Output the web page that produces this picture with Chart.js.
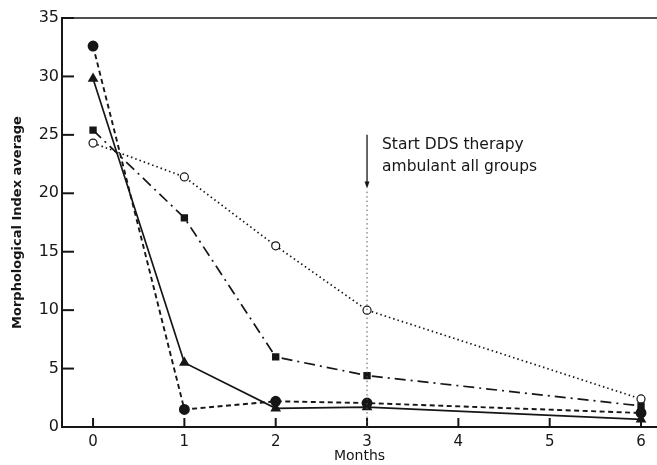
<!DOCTYPE html>
<html>
<head>
<meta charset="utf-8">
<script src="https://cdn.jsdelivr.net/npm/chart.js@4.4.1/dist/chart.umd.min.js"></script>
<style>
html,body{margin:0;padding:0;background:#fff;}
#wrap{width:657px;height:465px;position:relative;}
</style>
</head>
<body>
<div id="wrap"><canvas id="c" width="657" height="465"></canvas></div>
<script>
// ---- data ----
const months = [0, 1, 2, 3, 6];
const filledCircle = [32.6, 1.5, 2.2, 2.05, 1.2];
const filledTriangle = [29.8, 5.5, 1.6, 1.7, 0.65];
const filledSquare = [25.4, 17.9, 6.0, 4.4, 1.8];
const openCircle = [24.3, 21.4, 15.5, 10.0, 2.4];
const xTickValues = [0, 1, 2, 3, 4, 5, 6];
const yTickValues = [0, 5, 10, 15, 20, 25, 30, 35];
const noteLines = ["Start DDS therapy", "ambulant all groups"];
const noteMonth = 3;
const arrowTop = 25.0, arrowTip = 20.4;

const ink = '#161616';
const toXY = arr => arr.map((v, i) => ({x: months[i], y: v}));

const inwardTicks = {
  id: 'inwardTicks',
  afterDraw(chart) {
    const {ctx, chartArea: a, scales: {x, y}} = chart;
    ctx.save();
    ctx.strokeStyle = ink;
    // top border
    ctx.lineWidth = 1.6;
    ctx.beginPath(); ctx.moveTo(a.left, a.top); ctx.lineTo(a.right, a.top); ctx.stroke();
    // y ticks inward
    ctx.lineWidth = 2;
    yTickValues.forEach(v => {
      const py = y.getPixelForValue(v);
      ctx.beginPath(); ctx.moveTo(a.left, py); ctx.lineTo(a.left + 12, py); ctx.stroke();
    });
    xTickValues.forEach(v => {
      const px = x.getPixelForValue(v);
      ctx.beginPath(); ctx.moveTo(px, a.bottom); ctx.lineTo(px, a.bottom - 9); ctx.stroke();
    });
    // annotation
    const px = x.getPixelForValue(noteMonth);
    const pTop = y.getPixelForValue(arrowTop), pTip = y.getPixelForValue(arrowTip);
    ctx.lineWidth = 1.3;
    ctx.beginPath(); ctx.moveTo(px, pTop); ctx.lineTo(px, pTip - 3); ctx.stroke();
    ctx.fillStyle = ink;
    ctx.beginPath(); ctx.moveTo(px - 2.5, pTip - 7); ctx.lineTo(px + 2.5, pTip - 7); ctx.lineTo(px, pTip); ctx.closePath(); ctx.fill();
    ctx.lineWidth = 1;
    ctx.strokeStyle = '#555';
    ctx.setLineDash([1.5, 3]);
    ctx.beginPath(); ctx.moveTo(px, pTip + 3); ctx.lineTo(px, y.getPixelForValue(0)); ctx.stroke();
    ctx.setLineDash([]);
    ctx.font = '15.5px "DejaVu Sans"';
    ctx.textBaseline = 'middle';
    ctx.textAlign = 'left';
    ctx.fillText(noteLines[0], px + 15, pTop + 10);
    ctx.fillText(noteLines[1], px + 15, pTop + 32);
    ctx.restore();
  }
};

new Chart(document.getElementById('c'), {
  type: 'line',
  data: {
    datasets: [
      {data: toXY(openCircle), borderColor: ink, borderWidth: 1.7, borderDash: [1.5, 3],
       pointStyle: 'circle', pointRadius: 4, pointBackgroundColor: '#fff', pointBorderColor: ink, pointBorderWidth: 1.2},
      {data: toXY(filledSquare), borderColor: ink, borderWidth: 1.7, borderDash: [11, 5, 2, 5],
       pointStyle: 'rect', pointRadius: 4, pointBackgroundColor: ink, pointBorderColor: ink},
      {data: toXY(filledTriangle), borderColor: ink, borderWidth: 1.7,
       pointStyle: 'triangle', pointRadius: 4.5, pointBackgroundColor: ink, pointBorderColor: ink},
      {data: toXY(filledCircle), borderColor: ink, borderWidth: 1.9, borderDash: [5, 3.5],
       pointStyle: 'circle', pointRadius: 4.5, pointBackgroundColor: ink, pointBorderColor: ink}
    ]
  },
  options: {
    responsive: false,
    animation: false,
    layout: {autoPadding: false, padding: {top: 18, right: 0, left: 0, bottom: 0}},
    plugins: {legend: {display: false}, tooltip: {enabled: false}},
    elements: {line: {tension: 0}},
    scales: {
      x: {
        type: 'linear', min: -0.34, max: 6.175,
        afterBuildTicks: s => { s.ticks = xTickValues.map(v => ({value: v})); },
        afterFit: s => { s.height = 38; s.paddingRight = 0; s.paddingLeft = 0; },
        grid: {display: false, drawTicks: false},
        border: {display: true, color: ink, width: 2},
        ticks: {color: ink, font: {family: 'DejaVu Sans', size: 15}, padding: 6, callback: v => String(v)},
        title: {display: true, text: 'Months', color: ink, font: {family: 'DejaVu Sans', size: 14}, padding: {top: 0, bottom: 0}}
      },
      y: {
        type: 'linear', min: 0, max: 35,
        afterBuildTicks: s => { s.ticks = yTickValues.map(v => ({value: v})); },
        afterFit: s => { s.width = 62; s.paddingTop = 0; s.paddingBottom = 0; },
        grid: {display: false, drawTicks: false},
        border: {display: true, color: ink, width: 2},
        ticks: {color: ink, font: {family: 'DejaVu Sans', size: 16}, padding: 3, callback: v => String(v)},
        title: {display: true, text: 'Morphological Index average', color: ink, font: {family: 'DejaVu Sans', size: 13, weight: 'bold'}, padding: {top: 10, bottom: 0}}
      }
    }
  },
  plugins: [inwardTicks]
});
</script>
</body>
</html>
